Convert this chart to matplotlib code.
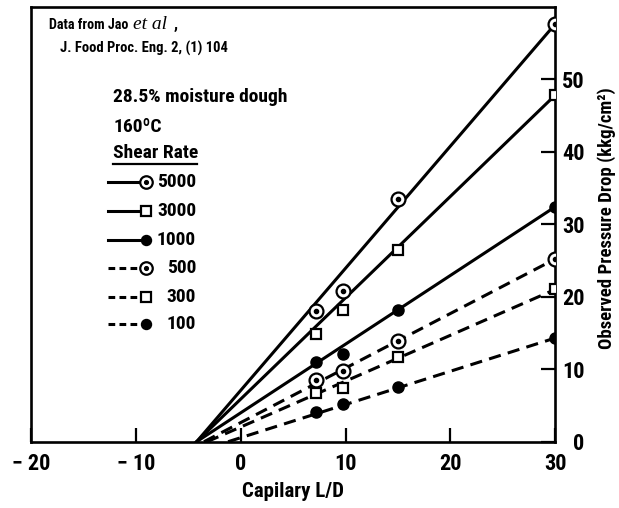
import matplotlib
matplotlib.use("Agg")
import matplotlib.pyplot as plt

plt.rcParams['font.family'] = ['Roboto Condensed', 'DejaVu Sans']
plt.rcParams['font.weight'] = 'bold'

# capillary L/D of the measured points
ld = [7.2, 9.8, 15, 30]

rates = ['5000', '3000', '1000', '500', '300', '100']
p5000 = [18.0, 20.8, 33.4, 57.6]
p3000 = [14.9, 18.2, 26.5, 47.8]
p1000 = [11.0, 12.1, 18.2, 32.4]
p500 = [8.5, 9.7, 13.9, 25.2]
p300 = [6.7, 7.4, 11.7, 21.0]
p100 = [4.1, 5.2, 7.6, 14.3]

# where each drawn line meets zero pressure
x_zero = [-4.2, -4.2, -4.2, -3.5, -3.2, -1.2]

series = [p5000, p3000, p1000, p500, p300, p100]
kinds = ['dot', 'square', 'filled', 'dot', 'square', 'filled']
styles = ['-', '-', '-', '--', '--', '--']

xticks = [-20, -10, 0, 10, 20, 30]
xticklabels = ['\u2212 20', '\u2212 10', '0', '10', '20', '30']
yticks = [0, 10, 20, 30, 40, 50]

fig = plt.figure(figsize=(6.19, 5.08), dpi=100)
ax = fig.add_axes([0.050, 0.1305, 0.847, 0.8565])

lw = 2.2
dash = (0, (4, 2.4))


def draw_marker(x, y, kind, size=1.0, **kw):
    if kind == 'dot':
        ax.plot(x, y, 'o', ms=10 * size, mfc='white', mec='black', mew=1.6, zorder=5, **kw)
        ax.plot(x, y, 'o', ms=3 * size, color='black', zorder=6, **kw)
    elif kind == 'square':
        ax.plot(x, y, 's', ms=7.5 * size, mfc='white', mec='black', mew=1.6, zorder=5, **kw)
    else:
        ax.plot(x, y, 'o', ms=8 * size, color='black', zorder=5, **kw)


for vals, kind, st, x0 in zip(series, kinds, styles, x_zero):
    ax.plot([x0, ld[-1]], [0, vals[-1]], color='black', lw=lw,
            linestyle='-' if st == '-' else dash, zorder=3)
    draw_marker(ld, vals, kind)

ax.set_xlim(-20, 30)
ax.set_ylim(0, 60)

for s in ax.spines.values():
    s.set_linewidth(1.9)

ax.set_xticks(xticks)
ax.set_xticklabels(xticklabels)
ax.yaxis.tick_right()
ax.set_yticks(yticks)
ax.tick_params(axis='both', direction='in', length=10, width=1.6, labelsize=16)
ax.tick_params(axis='y', pad=21)
ax.tick_params(axis='x', pad=8)
for t in ax.get_yticklabels():
    t.set_horizontalalignment('right')

ax.set_xlabel('Capilary L/D', fontsize=15, fontweight='bold', labelpad=5)
fig.text(607 / 619, 1 - 218 / 508, 'Observed Pressure Drop (kkg/cm²)',
         rotation=90, ha='center', va='center', fontsize=13.5, fontweight='bold')

# citation note
ax.text(0.034, 0.958, 'Data from Jao', transform=ax.transAxes, fontsize=10.2,
        fontweight='bold', va='center')
ax.text(0.195, 0.958, 'et al', transform=ax.transAxes, fontsize=14,
        family='Liberation Serif', style='italic', fontweight='normal', va='center')
ax.text(0.272, 0.958, ',', transform=ax.transAxes, fontsize=12, fontweight='bold',
        va='center')
ax.text(0.055, 0.903, 'J. Food Proc. Eng. 2, (1) 104', transform=ax.transAxes,
        fontsize=10.5, fontweight='bold', va='center')

# legend block
ax.text(0.157, 0.792, '28.5% moisture dough', transform=ax.transAxes, fontsize=14,
        va='center')
ax.text(0.157, 0.723, '160ºC', transform=ax.transAxes, fontsize=14, va='center')
ax.text(0.157, 0.664, 'Shear Rate', transform=ax.transAxes, fontsize=14, va='center')
ax.plot([0.157, 0.317], [0.638, 0.638], transform=ax.transAxes, color='black',
        lw=1.6, clip_on=False)

row_y = [0.597, 0.530, 0.464, 0.399, 0.333, 0.270]
for r, kind, st, ry in zip(rates, kinds, styles, row_y):
    ax.plot([0.147, 0.219], [ry, ry], transform=ax.transAxes, color='black', lw=lw,
            linestyle='-' if st == '-' else (0, (2.2, 1.4)))
    draw_marker([0.219], [ry], kind, size=0.9, transform=ax.transAxes)
    ax.text(0.315, ry, r, transform=ax.transAxes, fontsize=14, ha='right', va='center')

fig.savefig('out.png', dpi=100)
